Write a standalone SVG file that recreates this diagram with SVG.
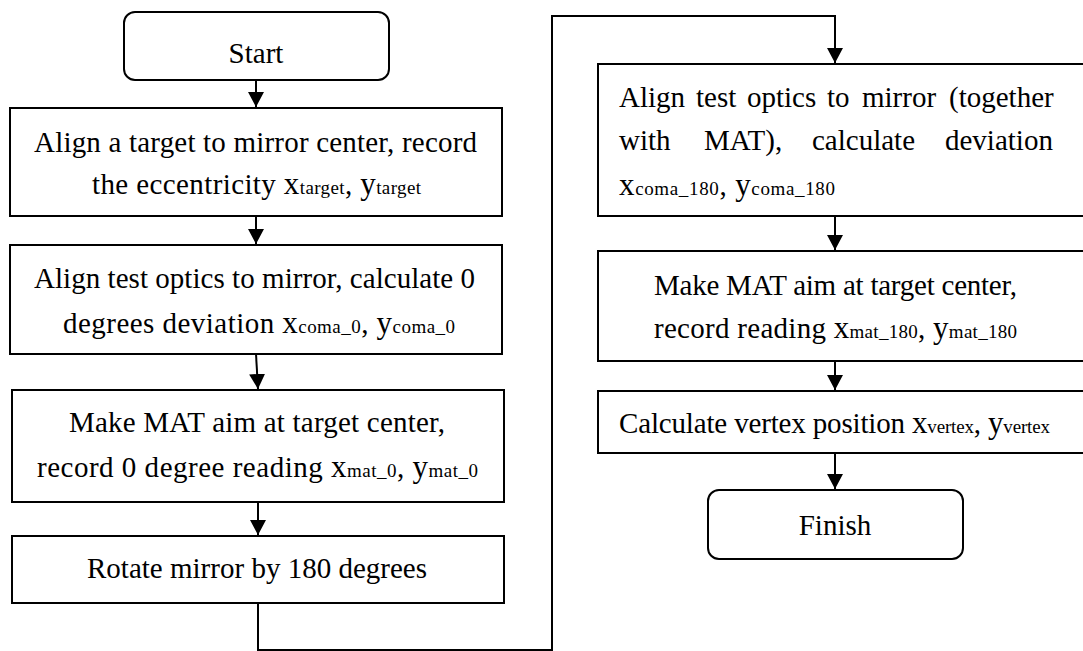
<svg xmlns="http://www.w3.org/2000/svg" width="1083" height="651" viewBox="0 0 1083 651">
<style>
.box{fill:#fff;stroke:#000;stroke-width:2}
.t{font-family:"Liberation Serif","Times New Roman",serif;font-size:29px;fill:#000}
.v{font-size:31px}
.s{font-size:19px}
.c{fill:none;stroke:#000;stroke-width:2}
</style>
<defs>
<marker id="ah" markerUnits="userSpaceOnUse" markerWidth="18" markerHeight="18" viewBox="0 0 18 18" refX="15" refY="9" orient="auto">
<path d="M0,1 L15,9 L0,17 Z" fill="#000"/>
</marker>
</defs>
<rect width="1083" height="651" fill="#fff"/>
<g id="connectors">
<line class="c" x1="256" y1="80" x2="256" y2="107" marker-end="url(#ah)"/>
<line class="c" x1="256" y1="216" x2="256" y2="244" marker-end="url(#ah)"/>
<line class="c" x1="256" y1="354" x2="258" y2="389" marker-end="url(#ah)"/>
<line class="c" x1="258" y1="502" x2="258" y2="535" marker-end="url(#ah)"/>
<polyline class="c" points="258,603 258,650 552,650 552,16 835,16 835,63" marker-end="url(#ah)"/>
<line class="c" x1="835" y1="216" x2="835" y2="250" marker-end="url(#ah)"/>
<line class="c" x1="835" y1="361" x2="835" y2="390" marker-end="url(#ah)"/>
<line class="c" x1="835" y1="453" x2="835" y2="489" marker-end="url(#ah)"/>
</g>
<g id="start">
<rect class="box" x="124" y="12" width="265" height="68" rx="11"/>
<text class="t" x="256" y="63" text-anchor="middle">Start</text>
</g>
<g id="step1">
<rect class="box" x="10" y="108" width="492" height="108"/>
<text class="t" x="34" y="152" textLength="443" lengthAdjust="spacing">Align a target to mirror center, record</text>
<text class="t" x="92" y="194" textLength="329" lengthAdjust="spacing">the eccentricity <tspan class="v">x</tspan><tspan class="s">target</tspan>, <tspan class="v">y</tspan><tspan class="s">target</tspan></text>
</g>
<g id="step2">
<rect class="box" x="10" y="245" width="492" height="109"/>
<text class="t" x="34" y="288" textLength="441" lengthAdjust="spacing">Align test optics to mirror, calculate 0</text>
<text class="t" x="63" y="333" textLength="392" lengthAdjust="spacing">degrees deviation <tspan class="v">x</tspan><tspan class="s">coma_0</tspan>, <tspan class="v">y</tspan><tspan class="s">coma_0</tspan></text>
</g>
<g id="step3">
<rect class="box" x="12" y="390" width="492" height="112"/>
<text class="t" x="69" y="432" textLength="376" lengthAdjust="spacing">Make MAT aim at target center,</text>
<text class="t" x="37" y="477" textLength="441" lengthAdjust="spacing">record 0 degree reading <tspan class="v">x</tspan><tspan class="s">mat_0</tspan>, <tspan class="v">y</tspan><tspan class="s">mat_0</tspan></text>
</g>
<g id="step4">
<rect class="box" x="12" y="536" width="492" height="67"/>
<text class="t" x="87" y="578" textLength="340" lengthAdjust="spacing">Rotate mirror by 180 degrees</text>
</g>
<g id="step5">
<rect class="box" x="598" y="64" width="490" height="152"/>
<text class="t" y="107"><tspan x="619">Align</tspan><tspan x="696">test</tspan><tspan x="747">optics</tspan><tspan x="827">to</tspan><tspan x="862">mirror</tspan><tspan x="949">(together</tspan></text>
<text class="t" y="150"><tspan x="619">with</tspan><tspan x="704">MAT),</tspan><tspan x="812">calculate</tspan><tspan x="945">deviation</tspan></text>
<text class="t" x="619" y="195" textLength="216" lengthAdjust="spacing"><tspan class="v">x</tspan><tspan class="s">coma_180</tspan>, <tspan class="v">y</tspan><tspan class="s">coma_180</tspan></text>
</g>
<g id="step6">
<rect class="box" x="598" y="251" width="490" height="110"/>
<text class="t" x="654" y="295" textLength="363" lengthAdjust="spacing">Make MAT aim at target center,</text>
<text class="t" x="654" y="338" textLength="363" lengthAdjust="spacing">record reading <tspan class="v">x</tspan><tspan class="s">mat_180</tspan>, <tspan class="v">y</tspan><tspan class="s">mat_180</tspan></text>
</g>
<g id="step7">
<rect class="box" x="598" y="391" width="490" height="62"/>
<text class="t" x="619" y="433" textLength="431" lengthAdjust="spacing">Calculate vertex position <tspan class="v">x</tspan><tspan class="s">vertex</tspan>, <tspan class="v">y</tspan><tspan class="s">vertex</tspan></text>
</g>
<g id="finish">
<rect class="box" x="708" y="490" width="255" height="69" rx="11"/>
<text class="t" x="835" y="535" text-anchor="middle">Finish</text>
</g>
</svg>
